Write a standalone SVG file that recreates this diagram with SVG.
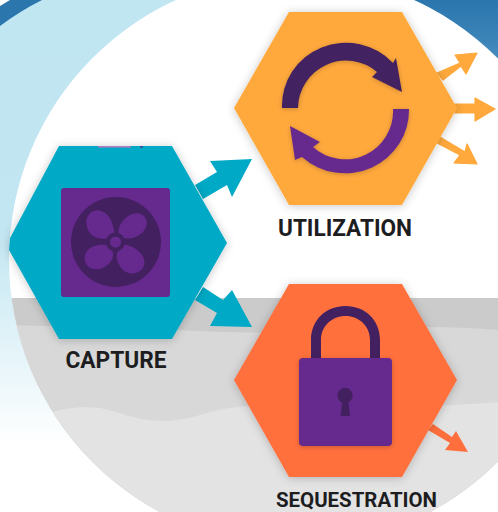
<svg xmlns="http://www.w3.org/2000/svg" width="498" height="512" viewBox="0 0 498 512">
<defs>
<linearGradient id="sky" x1="0" y1="0" x2="0" y2="1"><stop offset="0" stop-color="#c0e6f2"/><stop offset="0.45" stop-color="#c2e6f2"/><stop offset="0.87" stop-color="#ffffff"/></linearGradient>
<linearGradient id="deep" x1="0" y1="0" x2="0" y2="1"><stop offset="0" stop-color="#2a76ad"/><stop offset="1" stop-color="#4a8fc1"/></linearGradient>
<clipPath id="disc"><circle cx="295" cy="260" r="286"/></clipPath>
<filter id="soft" x="-20%" y="-20%" width="140%" height="140%"><feDropShadow dx="0" dy="1" stdDeviation="5" flood-color="#000" flood-opacity=".22"/></filter>
<filter id="tiny" x="-20%" y="-20%" width="140%" height="140%"><feDropShadow dx="0" dy="1" stdDeviation="2.5" flood-color="#000" flood-opacity=".22"/></filter>
</defs>
<style>
.lbl{font-family:"Roboto","Liberation Sans",sans-serif;font-weight:700;font-size:24px;fill:#1d1d1f;text-anchor:middle}
.dark{fill:#432060}.pur{fill:#662a8e}.cy{fill:#00a9c5}.or{fill:#ffa93c}.rd{fill:#ff6f3d}
.thick{stroke:#ffa93c;stroke-width:1.2;stroke-linejoin:round}
.blade{stroke:#662a8e;stroke-width:3;stroke-linejoin:round}
</style>
<rect width="498" height="512" fill="#fff"/>
<rect width="498" height="512" fill="url(#sky)"/>
<path d="M0 0H42Q20 11 0 26Z" fill="#2a76ad"/><path d="M0 0H10L0 6Z" fill="#fff"/>
<path d="M400 0H498V70H400Z" fill="url(#deep)"/>
<circle cx="295" cy="260" r="286" fill="#fff"/>
<g clip-path="url(#disc)">
<rect x="0" y="298" width="498" height="214" fill="#cbcbcb"/>
<path d="M0 325L150 328Q250 336 340 330T498 330V512H0Z" fill="#d8d8d8"/>
<path d="M0 415L53 412C65 408 85 406 100 408C115 411 125 415 133 417C145 420 155 421 167 421C180 420 190 418 200 415C210 412 220 409 230 408C300 398 400 412 498 402V512H0Z" fill="#e3e3e3"/>
</g>
<g id="connectors">
<path class="cy" d="M195 185L217 172 210 161 252 159 232 197 227 185 203 199Z"/>
<path class="cy" d="M203 287L223 300 232 290 252 327 210 326 217 313 195 300Z"/>
<path class="or thick" d="M437 73L460 63 455 55 477 53 466 74 461 66 443 80Z"/>
<path class="or thick" d="M455 104H475V98L495 109 475 121V113H455Z"/>
<path class="or thick" d="M440 137L465 152 467 144 477 164 454 163 460 155 437 143Z"/>
<path class="rd" d="M433 424L452 437 456 431 468 452 445 450 450 443 428 430Z"/>
</g>
<g id="capture">
<path d="M59 146H172L227 243 172 339H59L9 250 10 238Z" class="cy" filter="url(#soft)"/>
<rect x="98" y="146" width="33" height="1.600" fill="#b07cc0"/><rect x="140" y="146" width="3" height="1.600" fill="#3a4a90"/>
<rect x="61" y="188" width="109" height="109" rx="3" class="pur"/>
<circle cx="116" cy="242" r="45" class="dark"/>
<g class="pur blade">
<path d="M113 233C111 222 108 214 99 212C92 211 87 217 88 224C89 231 93 236 101 237C105 238 109 237 113 233Z"/>
<path d="M120 233C120 225 126 217 135 215C142 214 146 219 145 225C143 232 136 237 128 237C124 237 121 235 120 233Z"/>
<path d="M125 246C133 248 142 253 143 262C143 268 138 272 131 272C124 271 119 264 118 257C118 253 121 249 125 246Z"/>
<path d="M108 247C112 251 113 255 110 260C106 266 99 269 92 267C87 265 85 259 87 254C90 247 100 245 108 247Z"/>
</g>
<circle cx="115.500" cy="242" r="9.500" class="dark"/><circle cx="115.500" cy="242" r="5.500" class="pur"/>
</g>
<g id="utilization">
<path d="M289 12H402L457 108 402 205H289L234 108Z" class="or" filter="url(#soft)"/>
<g filter="url(#tiny)">
<path class="dark" d="M282 108A64 63 0 0 1 393 63L396 58 402 92 372 77 377 72A48 48 0 0 0 298 108Z"/>
<path class="pur" d="M409 109A64 63 0 0 1 302 157L295 160 290 126 320 142 313 147A48 48 0 0 0 393 109Z"/>
</g>
</g>
<g id="sequestration">
<path d="M289 284H402L457 380 402 477H289L234 380Z" class="rd" filter="url(#soft)"/>
<path class="dark" d="M311 360V340C311 320 326 306 345.500 306C365 306 380 320 380 340V360H370V340C370 326 359 316 345.500 316C332 316 321 326 321 340V360Z"/>
<rect x="299" y="358" width="93" height="88" rx="4" class="pur" filter="url(#tiny)"/>
<circle cx="345" cy="395.500" r="7.700" class="dark"/><path class="dark" d="M342.500 398H348L350 416H340.500Z"/>
</g>
<text class="lbl" x="116" y="368" textLength="101" lengthAdjust="spacingAndGlyphs">CAPTURE</text>
<text class="lbl" x="345" y="236" textLength="134" lengthAdjust="spacingAndGlyphs">UTILIZATION</text>
<text class="lbl" x="356.500" y="507" style="font-size:20px" textLength="161" lengthAdjust="spacingAndGlyphs">SEQUESTRATION</text>
</svg>
